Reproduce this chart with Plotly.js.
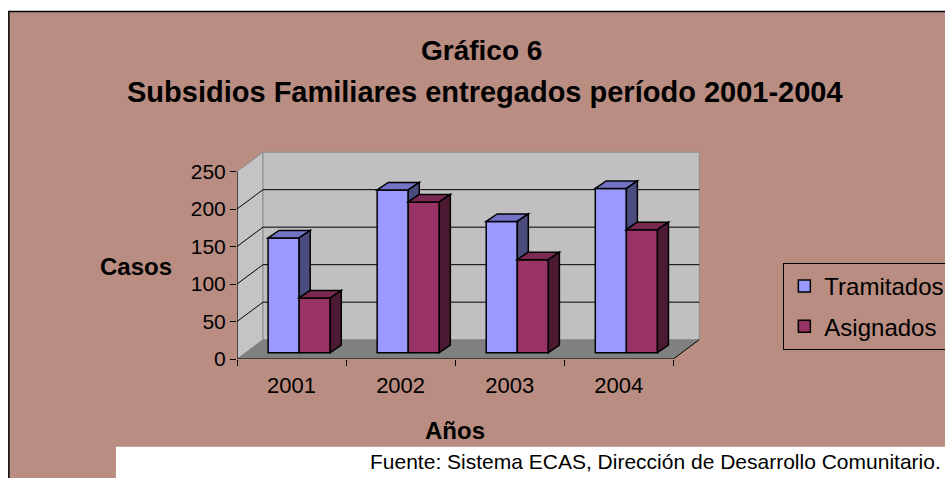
<!DOCTYPE html>
<html>
<head>
<meta charset="utf-8">
<script src="https://cdn.plot.ly/plotly-3.0.1.min.js"></script>
<style>html,body{margin:0;padding:0;background:#fff;}#chart{width:945px;height:478px;}</style>
</head>
<body>
<div id="chart"></div>
<script>
// ---- data ----
const years = ['2001', '2002', '2003', '2004'];
const tramitados = [153, 217, 175, 219];
const asignados = [73, 201, 124, 164];
const yTicks = [0, 50, 100, 150, 200, 250];
const seriesNames = ['Tramitados', 'Asignados'];
const titleText = 'Gráfico 6';
const subtitleText = 'Subsidios Familiares entregados período 2001-2004';
const yTitle = 'Casos';
const xTitle = 'Años';
const sourceText = 'Fuente: Sistema ECAS, Dirección de Desarrollo Comunitario.';

// ---- geometry / style ----
const FONT = "'Liberation Sans', Arial, sans-serif";
const FIG_W = 945, FIG_H = 478;
const PX_X = 109;       // px per category unit
const PX_Y = 0.749;     // px per value unit
const LEFT = 237, BOTTOM_PX = 359;
const XR = [0.5, 4.8], YR = [0, 280];
const PW = (XR[1] - XR[0]) * PX_X, PH = (YR[1] - YR[0]) * PX_Y;
const margin = {l: LEFT, r: FIG_W - LEFT - PW, t: BOTTOM_PX - PH, b: FIG_H - BOTTOM_PX, pad: 0, autoexpand: false};
const px2x = p => (p - LEFT) / PW;          // pixel -> paper x
const py2y = p => (BOTTOM_PX - p) / PH;     // pixel -> paper y

const DXu = 26 / PX_X, DYu = 19.3 / PX_Y;   // wall depth in data units
const BDX = 11 / PX_X, BDY = 7.5 / PX_Y;    // bar depth in data units
const BASE = 6.3 / PX_Y;                    // bars stand back on the floor
const BW = 0.285;
const OFF_T = -0.215, OFF_A = 0.07;
const xs = years.map((_, i) => i + 1);

const colT = '#9999FF', colTtop = '#7373C6', colTside = '#4B4B7E';
const colA = '#993366', colAtop = '#7A2952', colAside = '#4D1A33';
const BROWN = '#B98D81';

const shapes = [];
// background frame
shapes.push({type: 'rect', xref: 'paper', yref: 'paper', layer: 'below',
  x0: px2x(9), x1: px2x(980), y0: py2y(12), y1: py2y(500),
  fillcolor: BROWN, line: {color: '#000', width: 1.5}});
shapes.push({type: 'rect', xref: 'paper', yref: 'paper', layer: 'below',
  x0: px2x(116), x1: px2x(980), y0: py2y(446.7), y1: py2y(500),
  fillcolor: '#FFFFFF', line: {width: 0}});

const xL = XR[0], xRgt = years.length + 0.5;
const yTop = yTicks[yTicks.length - 1];
const P = (pts) => 'M' + pts.map(p => p[0] + ',' + p[1]).join('L') + 'Z';
// side wall
shapes.push({type: 'path', xref: 'x', yref: 'y', layer: 'below',
  path: P([[xL, 0], [xL, yTop], [xL + DXu, yTop + DYu], [xL + DXu, DYu]]),
  fillcolor: '#C4C4C4', line: {color: '#8C8C8C', width: 1}});
// back wall
shapes.push({type: 'path', xref: 'x', yref: 'y', layer: 'below',
  path: P([[xL + DXu, DYu], [xL + DXu, yTop + DYu], [xRgt + DXu, yTop + DYu], [xRgt + DXu, DYu]]),
  fillcolor: '#C0C0C0', line: {color: '#8C8C8C', width: 1}});
// gridlines
yTicks.forEach(v => {
  if (v === 0 || v === yTop) return;
  shapes.push({type: 'line', xref: 'x', yref: 'y', layer: 'below',
    x0: xL, y0: v, x1: xL + DXu, y1: v + DYu, line: {color: '#000', width: 1}});
  shapes.push({type: 'line', xref: 'x', yref: 'y', layer: 'below',
    x0: xL + DXu, y0: v + DYu, x1: xRgt + DXu, y1: v + DYu, line: {color: '#000', width: 1}});
});
// floor
shapes.push({type: 'path', xref: 'x', yref: 'y', layer: 'below',
  path: P([[xL, 0], [xL + DXu, DYu], [xRgt + DXu, DYu], [xRgt, 0]]),
  fillcolor: '#808080', line: {width: 0}});
shapes.push({type: 'line', xref: 'x', yref: 'y', layer: 'below',
  x0: xRgt, y0: 0, x1: xRgt + DXu, y1: DYu, line: {color: '#000', width: 1}});
// axis lines
shapes.push({type: 'line', xref: 'x', yref: 'y', layer: 'above',
  x0: xL, y0: 0, x1: xL, y1: yTop, line: {color: '#000', width: 1.2}});
shapes.push({type: 'line', xref: 'x', yref: 'y', layer: 'above',
  x0: xL, y0: 0, x1: xRgt, y1: 0, line: {color: '#000', width: 1.2}});

// 3D bar faces
const edge = {color: '#000', width: 1.5};
xs.forEach((xc, i) => {
  const tL = xc + OFF_T, tR = tL + BW, tTop = BASE + tramitados[i];
  const aL = xc + OFF_A, aR = aL + BW, aTop = BASE + asignados[i];
  // Tramitados top
  shapes.push({type: 'path', xref: 'x', yref: 'y', layer: 'above',
    path: P([[tL, tTop], [tL + BDX, tTop + BDY], [tR + BDX, tTop + BDY], [tR, tTop]]),
    fillcolor: colTtop, line: edge});
  // Tramitados side, visible part only
  const lo = Math.max(aTop, BASE);
  if (lo < tTop) {
    shapes.push({type: 'path', xref: 'x', yref: 'y', layer: 'above',
      path: P([[tR, lo], [tR, tTop], [tR + BDX, tTop + BDY], [tR + BDX, lo + BDY]]),
      fillcolor: colTside, line: edge});
  }
  // Asignados top
  shapes.push({type: 'path', xref: 'x', yref: 'y', layer: 'above',
    path: P([[aL, aTop], [aL + BDX, aTop + BDY], [aR + BDX, aTop + BDY], [aR, aTop]]),
    fillcolor: colAtop, line: edge});
  // Asignados side
  shapes.push({type: 'path', xref: 'x', yref: 'y', layer: 'above',
    path: P([[aR, BASE], [aR, aTop], [aR + BDX, aTop + BDY], [aR + BDX, BASE + BDY]]),
    fillcolor: colAside, line: edge});
});

const traces = [
  {type: 'bar', name: seriesNames[0], x: xs, y: tramitados, base: BASE, width: BW, offset: OFF_T,
   legendgroup: 'g1', marker: {color: colT, line: {color: '#000', width: 1.5}}, hoverinfo: 'skip'},
  {type: 'bar', name: seriesNames[1], x: xs, y: asignados, base: BASE, width: BW, offset: OFF_A,
   legendgroup: 'g2', marker: {color: colA, line: {color: '#000', width: 1.5}}, hoverinfo: 'skip'}
];

const ann = (text, px, py, size, bold, xanchor) => ({
  xref: 'paper', yref: 'paper', x: px2x(px), y: py2y(py), xanchor: xanchor || 'center', yanchor: 'middle',
  text: bold ? '<b>' + text + '</b>' : text, showarrow: false,
  font: {family: FONT, size: size, color: '#000'}
});

const layout = {
  width: FIG_W, height: FIG_H, margin: margin,
  paper_bgcolor: '#FFFFFF', plot_bgcolor: 'rgba(0,0,0,0)',
  barmode: 'overlay', showlegend: true,
  font: {family: FONT, color: '#000'},
  xaxis: {range: XR, tickvals: xs, ticktext: years, ticks: 'outside', ticklen: 7, tickcolor: 'rgba(0,0,0,0)',
    showgrid: false, zeroline: false, showline: false, fixedrange: true,
    tickfont: {family: FONT, size: 22, color: '#000'},
    minor: {tickvals: [0.5, 1.5, 2.5, 3.5, 4.5], ticks: 'outside', ticklen: 6, tickwidth: 1, tickcolor: '#000', showgrid: false}},
  yaxis: {range: YR, tickvals: yTicks, ticks: 'outside', ticklen: 6, tickcolor: '#000', tickwidth: 1,
    showgrid: false, zeroline: false, showline: false, fixedrange: true,
    tickfont: {family: FONT, size: 21, color: '#000'}},
  legend: {x: px2x(783), y: py2y(263), xanchor: 'left', yanchor: 'top',
    bgcolor: 'rgba(0,0,0,0)', bordercolor: '#000', borderwidth: 1,
    traceorder: 'grouped', tracegroupgap: 6,
    font: {family: FONT, size: 24, color: '#000'}},
  shapes: shapes,
  annotations: [
    ann(titleText, 481, 51, 28, true),
    ann(subtitleText, 485, 92, 29, true),
    ann(yTitle, 136, 267, 24, true),
    ann(xTitle, 455, 430, 24, true),
    ann(sourceText, 943, 461, 21, false, 'right')
  ]
};

Plotly.newPlot('chart', traces, layout, {displayModeBar: false, staticPlot: true});
</script>
</body>
</html>
